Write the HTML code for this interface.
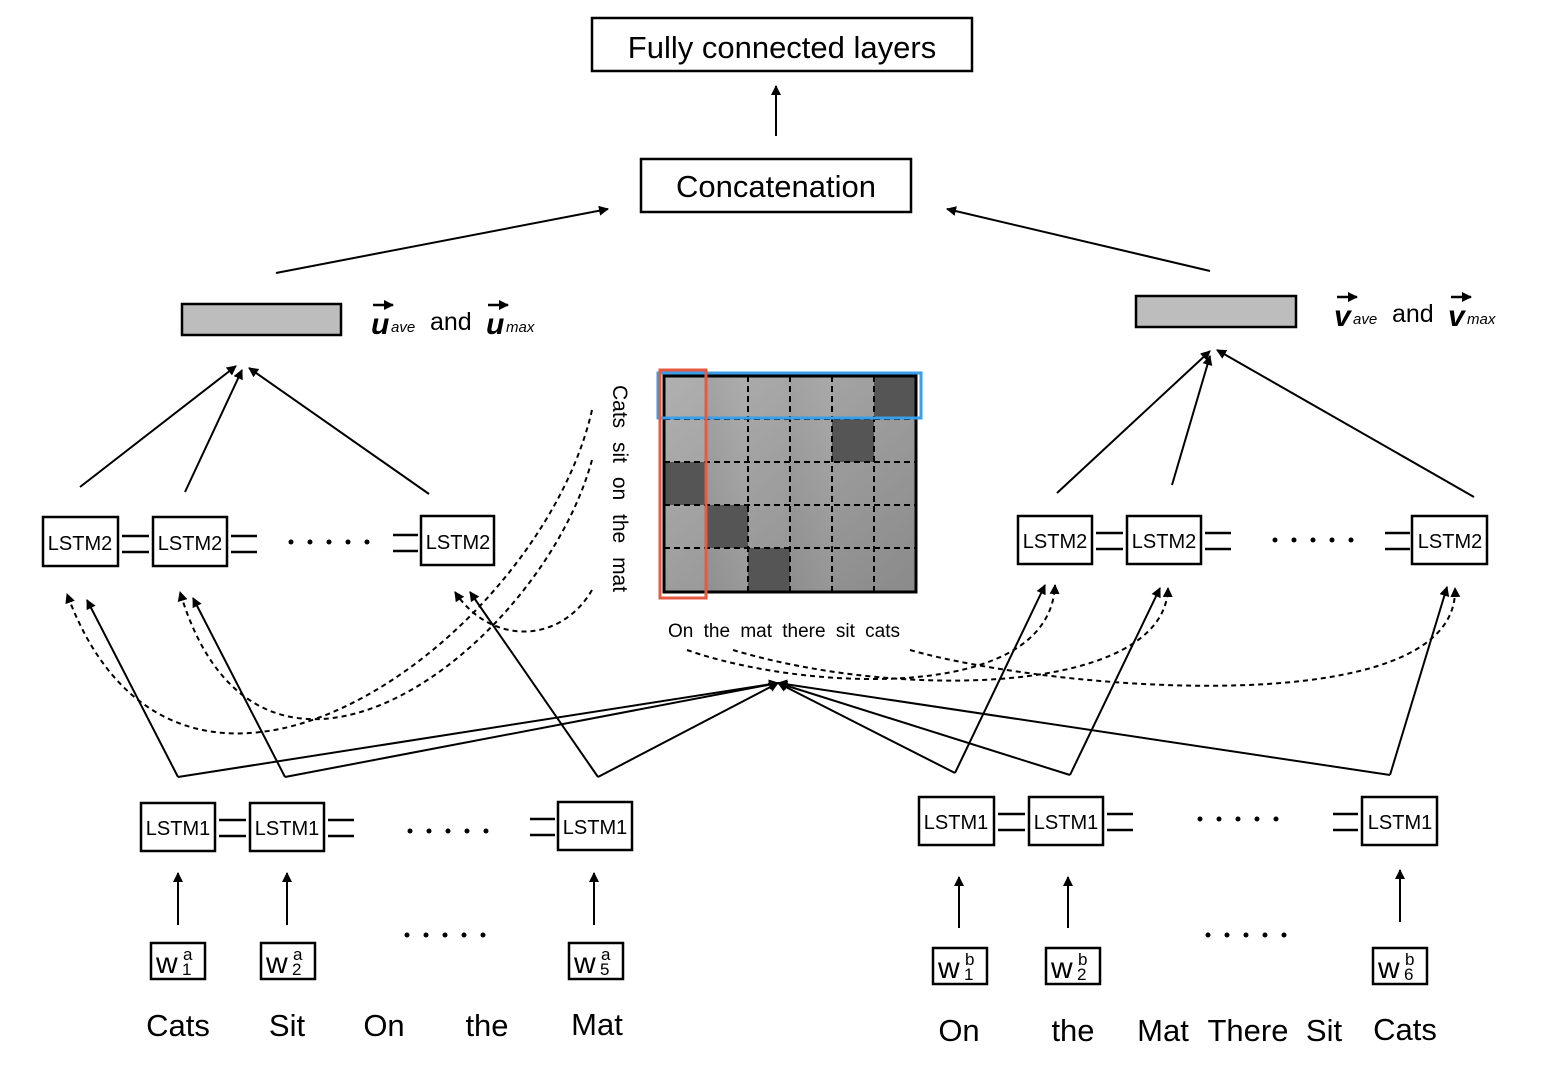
<!DOCTYPE html>
<html><head><meta charset="utf-8"><style>
body{margin:0;background:#fff;}
svg{display:block;font-family:"Liberation Sans",sans-serif;}
</style></head><body>
<svg width="1550" height="1074" viewBox="0 0 1550 1074" xmlns="http://www.w3.org/2000/svg">
<defs>
<marker id="a" markerWidth="10" markerHeight="10" refX="9" refY="5" orient="auto" markerUnits="userSpaceOnUse"><path d="M0,0 L10,5 L0,10 z" fill="#000"/></marker>
<linearGradient id="g" x1="0" y1="0" x2="1" y2="1"><stop offset="0" stop-color="#b0b0b0"/><stop offset="1" stop-color="#8a8a8a"/></linearGradient>
<linearGradient id="g2" x1="1" y1="0" x2="0" y2="1"><stop offset="0" stop-color="#b0b0b0"/><stop offset="1" stop-color="#888"/></linearGradient>
<g id="d"><circle cx="0" cy="0" r="2.5"/><circle cx="19" cy="0" r="2.5"/><circle cx="38" cy="0" r="2.5"/><circle cx="57" cy="0" r="2.5"/><circle cx="76" cy="0" r="2.5"/></g>
</defs>
<g fill="none" stroke="#000" stroke-width="2.5">
<rect x="592" y="18" width="380" height="53"/>
<rect x="641" y="159" width="270" height="53"/>
</g>
<text x="782" y="58" font-size="31" text-anchor="middle">Fully connected layers</text>
<text x="776" y="197" font-size="31" text-anchor="middle">Concatenation</text>
<g stroke="#000" stroke-width="2" fill="none" marker-end="url(#a)">
<line x1="776" y1="136" x2="776" y2="86"/>
<line x1="276" y1="273" x2="608" y2="209"/>
<line x1="1210" y1="271" x2="947" y2="209"/>
<line x1="80" y1="487" x2="236" y2="366"/>
<line x1="185" y1="492" x2="242" y2="370"/>
<line x1="429" y1="494" x2="249" y2="368"/>
<line x1="1057" y1="493" x2="1210" y2="351"/>
<line x1="1172" y1="485" x2="1210" y2="356"/>
<line x1="1474" y1="497" x2="1217" y2="350"/>
<line x1="178" y1="777" x2="87" y2="600"/>
<line x1="285" y1="777" x2="193" y2="598"/>
<line x1="598" y1="777" x2="470" y2="592"/>
<line x1="955" y1="773" x2="1045" y2="585"/>
<line x1="1070" y1="775" x2="1160" y2="588"/>
<line x1="1390" y1="775" x2="1447" y2="587"/>
<line x1="178" y1="777" x2="778" y2="683"/>
<line x1="285" y1="777" x2="778" y2="683"/>
<line x1="598" y1="777" x2="778" y2="683"/>
<line x1="955" y1="773" x2="778" y2="683"/>
<line x1="1070" y1="775" x2="778" y2="683"/>
<line x1="1390" y1="775" x2="778" y2="683"/>
<line x1="178" y1="925" x2="178" y2="873"/>
<line x1="287" y1="925" x2="287" y2="873"/>
<line x1="594" y1="925" x2="594" y2="873"/>
<line x1="959" y1="928" x2="959" y2="877"/>
<line x1="1068" y1="928" x2="1068" y2="877"/>
<line x1="1400" y1="922" x2="1400" y2="870"/>
</g>
<g stroke="#000" stroke-width="2" fill="none" stroke-dasharray="5,4" marker-end="url(#a)">
<path d="M592,410 C540,640 180,900 67,594"/>
<path d="M592,460 C540,650 260,860 180,592"/>
<path d="M592,590 C560,645 490,645 455,592"/>
<path d="M687,650 C800,690 1050,705 1055,585"/>
<path d="M733,650 C900,700 1165,695 1168,588"/>
<path d="M910,650 C1050,690 1460,725 1455,588"/>
</g>
<rect x="182" y="304" width="159" height="31" fill="#bdbdbd" stroke="#000" stroke-width="2.5"/>
<rect x="1136" y="296" width="160" height="31" fill="#bdbdbd" stroke="#000" stroke-width="2.5"/>
<g font-size="30" font-weight="bold" font-style="italic">
<text x="371" y="334">u</text><text x="486" y="334">u</text>
<text x="1334" y="326">v</text><text x="1448" y="326">v</text>
</g>
<g font-size="15" font-style="italic"><text x="391" y="332">ave</text><text x="506" y="332">max</text><text x="1353" y="324">ave</text><text x="1467" y="324">max</text></g>
<g font-size="25"><text x="430" y="330">and</text><text x="1392" y="322">and</text></g>
<g stroke="#000" stroke-width="2.5" marker-end="url(#a)">
<line x1="373" y1="305" x2="393" y2="305"/><line x1="488" y1="305" x2="508" y2="305"/>
<line x1="1337" y1="297" x2="1357" y2="297"/><line x1="1451" y1="297" x2="1471" y2="297"/>
</g>
<g>
<rect x="664" y="376" width="252" height="216" fill="url(#g)"/>
<rect x="706" y="376" width="42" height="216" fill="url(#g2)" opacity="0.6"/>
<rect x="790" y="376" width="42" height="216" fill="url(#g2)" opacity="0.5"/>
<g fill="#555">
<rect x="874" y="376" width="42" height="43"/>
<rect x="832" y="419" width="42" height="43"/>
<rect x="664" y="462" width="42" height="43"/>
<rect x="706" y="505" width="42" height="43"/>
<rect x="748" y="548" width="42" height="44"/>
</g>
<g stroke="#000" stroke-width="2" stroke-dasharray="6,4">
<line x1="706" y1="376" x2="706" y2="592"/><line x1="748" y1="376" x2="748" y2="592"/>
<line x1="790" y1="376" x2="790" y2="592"/><line x1="832" y1="376" x2="832" y2="592"/>
<line x1="874" y1="376" x2="874" y2="592"/>
<line x1="664" y1="419" x2="916" y2="419"/><line x1="664" y1="462" x2="916" y2="462"/>
<line x1="664" y1="505" x2="916" y2="505"/><line x1="664" y1="548" x2="916" y2="548"/>
</g>
<rect x="664" y="376" width="252" height="216" fill="none" stroke="#000" stroke-width="3"/>
<rect x="658" y="373" width="263" height="45" fill="none" stroke="#3a9ee8" stroke-width="3"/>
<rect x="660" y="370" width="46" height="228" fill="none" stroke="#e85a40" stroke-width="3"/>
</g>
<text transform="translate(613,385) rotate(90)" font-size="21" word-spacing="8">Cats sit on the mat</text>
<text x="668" y="637" font-size="19" word-spacing="5">On the mat there sit cats</text>
<g fill="#fff" stroke="#000" stroke-width="2.5">
<rect x="43" y="517" width="75" height="49"/><rect x="153" y="517" width="74" height="49"/><rect x="421" y="516" width="73" height="49"/>
<rect x="1018" y="516" width="74" height="48"/><rect x="1127" y="516" width="74" height="48"/><rect x="1412" y="516" width="75" height="48"/>
<rect x="141" y="803" width="74" height="48"/><rect x="250" y="803" width="74" height="48"/><rect x="558" y="802" width="74" height="48"/>
<rect x="919" y="797" width="75" height="48"/><rect x="1029" y="797" width="74" height="48"/><rect x="1362" y="797" width="75" height="48"/>
<rect x="151" y="943" width="54" height="36"/><rect x="261" y="943" width="54" height="36"/><rect x="569" y="943" width="54" height="36"/>
<rect x="933" y="948" width="54" height="36"/><rect x="1046" y="948" width="54" height="36"/><rect x="1373" y="948" width="54" height="36"/>
</g>
<g stroke="#000" stroke-width="2.5">
<path d="M122,536h27M122,552h27M231,536h26M231,552h26M393,535h25M393,551h25"/>
<path d="M1096,533h27M1096,549h27M1205,533h26M1205,549h26M1385,533h25M1385,549h25"/>
<path d="M219,820h27M219,836h27M328,820h26M328,836h26M530,819h25M530,835h25"/>
<path d="M998,814h27M998,830h27M1107,814h26M1107,830h26M1333,814h25M1333,830h25"/>
</g>
<g font-size="20" text-anchor="middle">
<text x="80" y="550">LSTM2</text><text x="190" y="550">LSTM2</text><text x="458" y="549">LSTM2</text>
<text x="1055" y="548">LSTM2</text><text x="1164" y="548">LSTM2</text><text x="1450" y="548">LSTM2</text>
<text x="178" y="835">LSTM1</text><text x="287" y="835">LSTM1</text><text x="595" y="834">LSTM1</text>
<text x="956" y="829">LSTM1</text><text x="1066" y="829">LSTM1</text><text x="1400" y="829">LSTM1</text>
</g>
<g font-size="30">
<text x="156" y="973">w</text><text x="266" y="973">w</text><text x="574" y="973">w</text>
<text x="938" y="978">w</text><text x="1051" y="978">w</text><text x="1378" y="978">w</text>
</g>
<g font-size="17">
<text x="183" y="960">a</text><text x="182" y="975">1</text>
<text x="293" y="960">a</text><text x="292" y="975">2</text>
<text x="601" y="960">a</text><text x="600" y="975">5</text>
<text x="965" y="965">b</text><text x="964" y="980">1</text>
<text x="1078" y="965">b</text><text x="1077" y="980">2</text>
<text x="1405" y="965">b</text><text x="1404" y="980">6</text>
</g>
<g fill="#000">
<use href="#d" x="291" y="542"/><use href="#d" x="1275" y="540"/>
<use href="#d" x="410" y="831"/><use href="#d" x="1200" y="819"/>
<use href="#d" x="407" y="935"/><use href="#d" x="1208" y="935"/>
</g>
<g font-size="31" text-anchor="middle">
<text x="178" y="1036">Cats</text><text x="287" y="1036">Sit</text><text x="384" y="1036">On</text><text x="487" y="1036">the</text><text x="597" y="1035">Mat</text>
<text x="959" y="1041">On</text><text x="1073" y="1041">the</text><text x="1163" y="1041">Mat</text><text x="1248" y="1041">There</text><text x="1324" y="1041">Sit</text><text x="1405" y="1040">Cats</text>
</g>
</svg>
</body></html>
